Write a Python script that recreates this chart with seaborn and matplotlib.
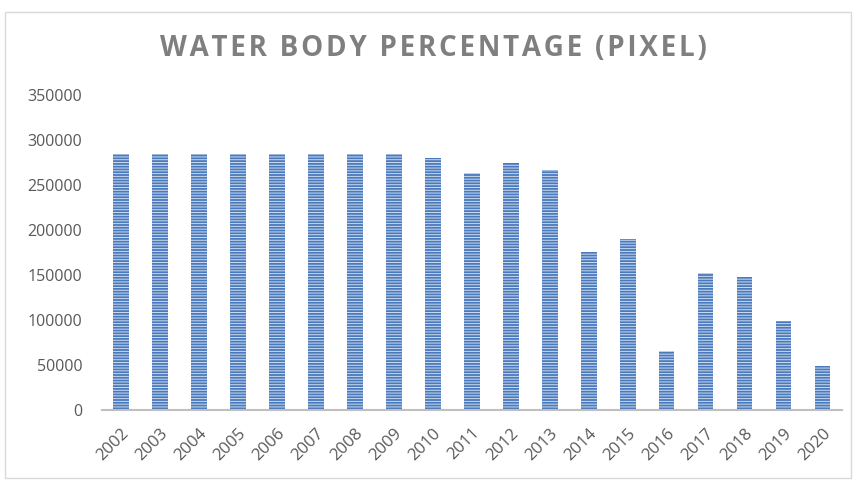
import matplotlib
matplotlib.use("Agg")
import matplotlib.pyplot as plt
import seaborn as sns
import pandas as pd
from matplotlib.patches import Rectangle

# Data
years = [str(y) for y in range(2002, 2021)]
pixels = [285000, 285000, 285000, 285000, 285000, 285000, 285000, 285000,
          280000, 263000, 274000, 267000, 175000, 190000, 66000, 152000,
          148000, 99000, 49000]
yticks = [0, 50000, 100000, 150000, 200000, 250000, 300000, 350000]
title = "WATER BODY PERCENTAGE (PIXEL)"

df = pd.DataFrame({"year": years, "pixels": pixels})

sns.set_style("white")
plt.rcParams["font.family"] = ["Open Sans", "DejaVu Sans"]
plt.rcParams["hatch.linewidth"] = 0.7

fig = plt.figure(figsize=(8.54, 4.8), dpi=100)
ax = fig.add_axes([0.119, 0.146, 0.867, 0.656])

sns.barplot(data=df, x="year", y="pixels", color="#4a79bc", width=0.4,
            saturation=1, ax=ax)

for bar in ax.patches:
    bar.set_hatch("------")
    bar.set_edgecolor("#cddcf0")
    bar.set_linewidth(0)

ax.set_ylim(0, 350000)
ax.set_yticks(yticks)
ax.set_yticklabels([str(v) for v in yticks], color="#595959", fontsize=11.5)
ax.tick_params(axis="y", length=0, pad=14)
ax.tick_params(axis="x", length=0, pad=11)
plt.setp(ax.get_xticklabels(), rotation=45, ha="right", rotation_mode="anchor",
         color="#595959", fontsize=12)
ax.set_xlabel("")
ax.set_ylabel("")

for side in ["top", "right", "left"]:
    ax.spines[side].set_visible(False)
ax.spines["bottom"].set_color("#bfbfbf")
ax.spines["bottom"].set_linewidth(1.5)

# letter-spaced title
fig.text(0.507, 0.9, "\u200a".join(title), ha="center", va="center",
         fontsize=20, fontweight="bold", color="#7f7f7f")

# outer chart frame
fig.patches.append(Rectangle((0.006, 0.004), 0.99, 0.972, transform=fig.transFigure,
                             fill=False, edgecolor="#d9d9d9", linewidth=1))

fig.savefig("out.png", dpi=100)
